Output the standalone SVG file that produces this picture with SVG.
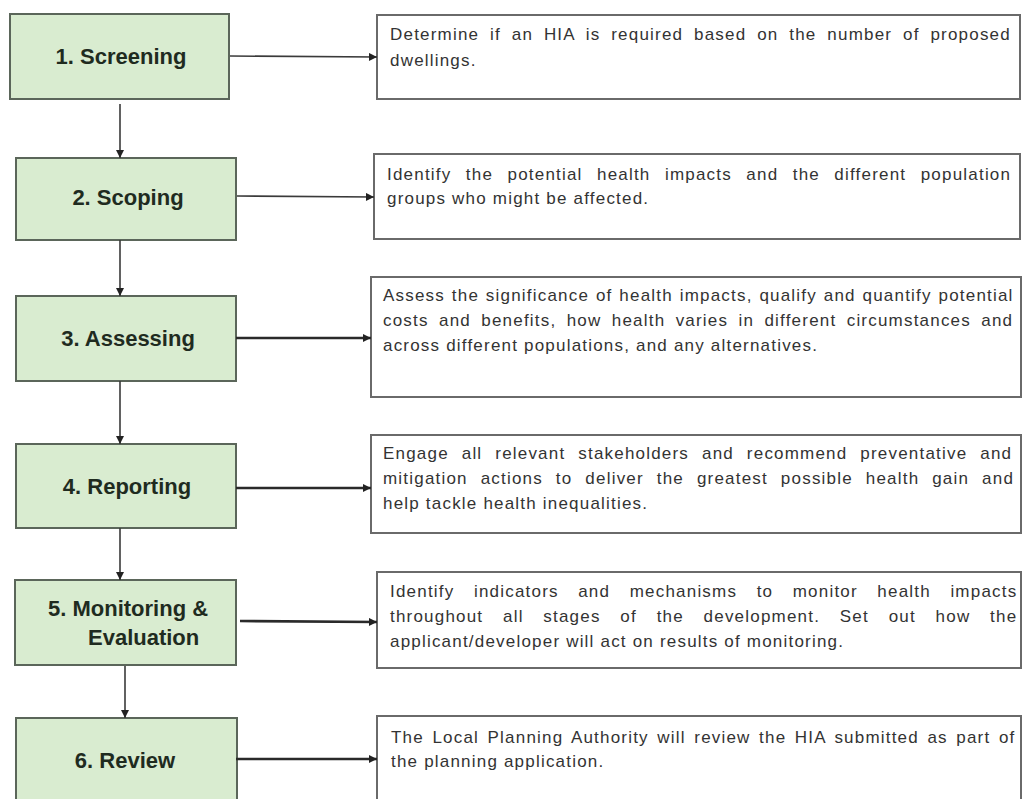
<svg xmlns="http://www.w3.org/2000/svg" width="1023" height="799" viewBox="0 0 1023 799">
  <style>
    .stage { fill: #d9ecd0; stroke: #5b665a; stroke-width: 2; }
    .stage-label { font-family: "Liberation Sans", Arial, sans-serif; font-size: 22px; font-weight: bold; fill: #1f2b1f; }
    .desc { fill: #ffffff; stroke: #6a6a6a; stroke-width: 2; }
    .desc-text { font-family: "Liberation Sans", Arial, sans-serif; font-size: 17px; letter-spacing: 1.2px; fill: #333333; }
    .flow { stroke: #3a3a3a; stroke-width: 1.6; fill: none; marker-end: url(#head); }
    .flow-bold { stroke: #2a2a2a; stroke-width: 2.6; fill: none; marker-end: url(#head); }
  </style>
  <defs>
    <marker id="head" viewBox="0 0 10 10" refX="10" refY="5" markerWidth="9" markerHeight="8" markerUnits="userSpaceOnUse" orient="auto">
      <path d="M0,0 L10,5 L0,10 Z" fill="#222222"/>
    </marker>
  </defs>

  <rect width="1023" height="799" fill="#ffffff"/>

  <!-- process stages -->
  <g id="stage-1">
    <rect class="stage" x="10" y="14" width="219" height="85"/>
    <text class="stage-label" x="121" y="64" text-anchor="middle">1. Screening</text>
  </g>
  <g id="stage-2">
    <rect class="stage" x="16" y="158" width="220" height="82"/>
    <text class="stage-label" x="128" y="205" text-anchor="middle">2. Scoping</text>
  </g>
  <g id="stage-3">
    <rect class="stage" x="16" y="296" width="220" height="85"/>
    <text class="stage-label" x="128" y="346" text-anchor="middle">3. Assessing</text>
  </g>
  <g id="stage-4">
    <rect class="stage" x="16" y="444" width="220" height="84"/>
    <text class="stage-label" x="127" y="494" text-anchor="middle">4. Reporting</text>
  </g>
  <g id="stage-5">
    <rect class="stage" x="15" y="580" width="221" height="85"/>
    <text class="stage-label" x="48" y="616">5. Monitoring &amp;</text>
    <text class="stage-label" x="88" y="645">Evaluation</text>
  </g>
  <g id="stage-6">
    <rect class="stage" x="16" y="718" width="221" height="90"/>
    <text class="stage-label" x="125" y="768" text-anchor="middle">6. Review</text>
  </g>

  <!-- stage descriptions (justified lines) -->
  <g id="desc-1">
    <rect class="desc" x="377" y="15" width="643" height="84"/>
    <text class="desc-text" x="390" y="40" word-spacing="4.9">Determine if an HIA is required based on the number of proposed</text>
    <text class="desc-text" x="390" y="66">dwellings.</text>
  </g>
  <g id="desc-2">
    <rect class="desc" x="374" y="154" width="646" height="85"/>
    <text class="desc-text" x="387" y="180" word-spacing="8.5">Identify the potential health impacts and the different population</text>
    <text class="desc-text" x="387" y="204">groups who might be affected.</text>
  </g>
  <g id="desc-3">
    <rect class="desc" x="371" y="277" width="650" height="120"/>
    <text class="desc-text" x="383" y="301" word-spacing="0.9">Assess the significance of health impacts, qualify and quantify potential</text>
    <text class="desc-text" x="383" y="326" word-spacing="4.4">costs and benefits, how health varies in different circumstances and</text>
    <text class="desc-text" x="383" y="351">across different populations, and any alternatives.</text>
  </g>
  <g id="desc-4">
    <rect class="desc" x="371" y="435" width="650" height="98"/>
    <text class="desc-text" x="383" y="459" word-spacing="7">Engage all relevant stakeholders and recommend preventative and</text>
    <text class="desc-text" x="383" y="484" word-spacing="7">mitigation actions to deliver the greatest possible health gain and</text>
    <text class="desc-text" x="383" y="509">help tackle health inequalities.</text>
  </g>
  <g id="desc-5">
    <rect class="desc" x="377" y="572" width="644" height="96"/>
    <text class="desc-text" x="390" y="597" word-spacing="13.6">Identify indicators and mechanisms to monitor health impacts</text>
    <text class="desc-text" x="390" y="622" word-spacing="13.8">throughout all stages of the development. Set out how the</text>
    <text class="desc-text" x="390" y="647">applicant/developer will act on results of monitoring.</text>
  </g>
  <g id="desc-6">
    <rect class="desc" x="377" y="716" width="644" height="95"/>
    <text class="desc-text" x="391" y="743" word-spacing="2.6">The Local Planning Authority will review the HIA submitted as part of</text>
    <text class="desc-text" x="391" y="767">the planning application.</text>
  </g>

  <!-- connectors -->
  <g id="connectors">
    <line class="flow" x1="120" y1="104" x2="120" y2="158"/>
    <line class="flow" x1="120" y1="240" x2="120" y2="296"/>
    <line class="flow" x1="120" y1="381" x2="120" y2="444"/>
    <line class="flow" x1="120" y1="528" x2="120" y2="580"/>
    <line class="flow" x1="125" y1="666" x2="125" y2="718"/>

    <line class="flow" x1="230" y1="56" x2="377" y2="57"/>
    <line class="flow" x1="237" y1="196" x2="374" y2="197"/>
    <line class="flow-bold" x1="236" y1="338" x2="371" y2="338"/>
    <line class="flow-bold" x1="236" y1="488" x2="371" y2="488"/>
    <line class="flow-bold" x1="240" y1="621" x2="377" y2="622"/>
    <line class="flow-bold" x1="236" y1="759" x2="377" y2="759"/>
  </g>
</svg>
